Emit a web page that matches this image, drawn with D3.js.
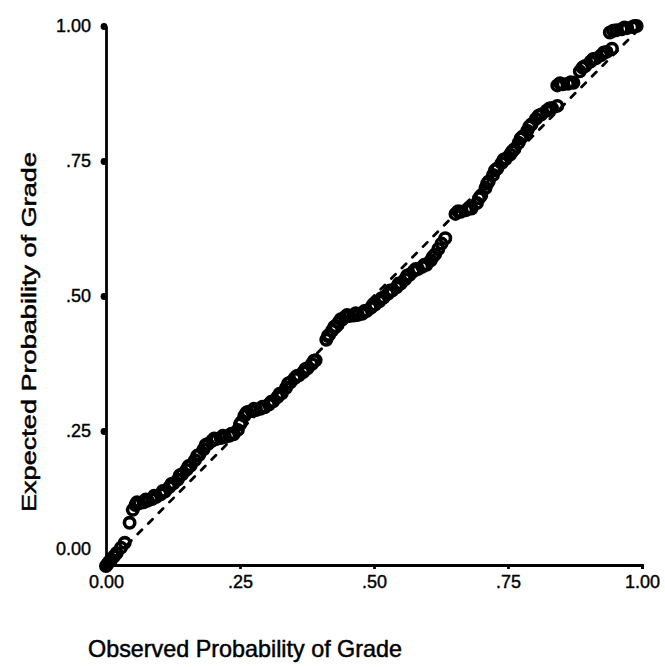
<!DOCTYPE html>
<html>
<head>
<meta charset="utf-8">
<script src="https://cdn.jsdelivr.net/npm/d3@7"></script>
<style>
  html, body { margin: 0; padding: 0; background: #fff; }
  svg { display: block; }
  text { font-family: Arial, "Liberation Sans", Helvetica, sans-serif; fill: #000; }
</style>
</head>
<body>
<svg id="chart" width="665" height="667"></svg>
<script>
// P-P plot: observed vs expected cumulative probability of grade
const observedProb = [
  0.000,0.003,0.006,0.010,0.015,0.020,0.028,0.035,0.044,0.050,0.055,
  0.062,0.070,0.078,0.086,0.094,0.102,0.110,0.118,0.126,0.134,0.142,0.150,0.158,0.166,0.174,0.182,0.190,
  0.198,0.206,0.214,0.222,0.230,0.238,0.246,0.252,0.258,0.264,
  0.272,0.280,0.288,0.296,0.304,0.312,0.320,0.328,0.336,0.344,0.352,0.360,0.368,0.376,0.384,0.391,
  0.411,0.416,0.422,0.428,0.434,0.440,0.446,0.454,0.462,0.470,0.478,0.486,0.494,0.502,0.510,0.518,
  0.526,0.534,0.542,0.550,0.558,0.566,0.574,0.582,0.590,0.598,0.606,0.614,0.620,0.633,
  0.652,0.662,0.672,0.682,0.692,0.700,0.708,0.714,0.722,0.730,0.738,0.746,0.754,0.762,0.770,0.778,
  0.786,0.794,0.802,0.812,0.822,0.832,0.842,
  0.842,0.852,0.862,0.872,
  0.884,0.894,0.904,0.914,0.924,0.934,0.944,
  0.940,0.952,0.962,0.972,0.982,0.990,
  0.058,0.074,0.090,0.106,0.122,0.138,0.154,0.170,0.186,
  0.202,0.218,0.234,0.250,0.262,
  0.276,0.292,0.308,0.324,0.340,0.356,0.372,0.388,
  0.414,0.426,0.438,0.450,0.466,0.482,0.498,0.514,0.530,0.546,0.562,0.578,0.594,0.610,0.626,
  0.657,0.677,0.696,0.711,0.726,0.742,0.758,0.774,0.790,0.807,0.827,
  0.847,0.867,0.889,0.909,0.929,0.946,0.967,0.986
];
const expectedProb = [
  0.000,0.004,0.008,0.012,0.018,0.024,0.034,0.043,0.080,0.104,0.113,
  0.116,0.118,0.121,0.124,0.128,0.133,0.138,0.146,0.153,0.160,0.170,0.178,0.186,0.196,0.206,0.216,0.226,
  0.232,0.235,0.237,0.239,0.241,0.244,0.252,0.266,0.278,0.285,
  0.287,0.289,0.291,0.294,0.299,0.305,0.313,0.320,0.330,0.340,0.348,0.353,0.359,0.366,0.374,0.381,
  0.419,0.428,0.436,0.444,0.451,0.456,0.461,0.463,0.464,0.465,0.467,0.472,0.478,0.484,0.490,0.497,
  0.504,0.510,0.516,0.523,0.531,0.539,0.546,0.550,0.554,0.558,0.566,0.577,0.587,0.607,
  0.652,0.656,0.659,0.662,0.672,0.686,0.700,0.712,0.724,0.736,0.746,0.754,0.762,0.772,0.784,0.796,
  0.806,0.818,0.828,0.836,0.843,0.848,0.852,
  0.890,0.892,0.893,0.895,
  0.916,0.926,0.934,0.940,0.946,0.952,0.958,
  0.988,0.992,0.994,0.996,0.998,1.000,
  0.118,0.123,0.130,0.139,0.152,0.168,0.185,0.204,0.224,
  0.236,0.241,0.245,0.262,0.284,
  0.291,0.295,0.304,0.319,0.338,0.352,0.365,0.380,
  0.426,0.443,0.457,0.465,0.468,0.472,0.484,0.496,0.510,0.523,0.538,0.550,0.558,0.573,0.597,
  0.657,0.663,0.681,0.708,0.733,0.753,0.768,0.792,0.814,0.834,0.847,
  0.894,0.896,0.923,0.939,0.951,0.991,0.997,1.000
];
const tickValues = [0, 0.25, 0.5, 0.75, 1];
const tickLabels = ["0.00", ".25", ".50", ".75", "1.00"];
const xTitle = "Observed Probability of Grade";
const yTitle = "Expected Probability of Grade";

const svg = d3.select("#chart");
const x = d3.scaleLinear().domain([0, 1]).range([106, 642]);
const y = d3.scaleLinear().domain([0, 1]).range([566, 26]);
const fmt = d => tickLabels[tickValues.indexOf(d)];

// diagonal reference (dashed)
svg.append("line")
  .attr("x1", x(0)).attr("y1", y(0)).attr("x2", x(1)).attr("y2", y(1))
  .attr("stroke", "#000").attr("stroke-width", 2.8)
  .attr("stroke-dasharray", "6,9").attr("stroke-linecap", "round");

// y axis
const yAxis = svg.append("g").attr("transform", `translate(${x(0)},0)`)
  .call(d3.axisLeft(y).tickValues(tickValues).tickFormat(fmt).tickSize(0).tickPadding(15));
yAxis.select(".domain").attr("stroke", "#000").attr("stroke-width", 2.8);
yAxis.selectAll(".tick text").attr("font-size", 18)
  .attr("stroke", "#000").attr("stroke-width", 0.4)
  .attr("dy", d => d === 0 ? "-0.65em" : "0.3em");
yAxis.selectAll(".tick").append("circle")
  .attr("cx", -2).attr("cy", 0).attr("r", 3.4).attr("fill", "#000");

// x axis
const xAxis = svg.append("g").attr("transform", `translate(0,${y(0) - 1})`)
  .call(d3.axisBottom(x).tickValues(tickValues).tickFormat(fmt).tickSize(4).tickPadding(6));
xAxis.select(".domain").attr("stroke", "#000").attr("stroke-width", 2.8);
xAxis.selectAll(".tick line").attr("stroke", "#000").attr("stroke-width", 2.8);
xAxis.selectAll(".tick text").attr("font-size", 18)
  .attr("stroke", "#000").attr("stroke-width", 0.4);

// data points: open circles
svg.append("g").selectAll("circle")
  .data(d3.range(observedProb.length))
  .join("circle")
  .attr("cx", i => x(observedProb[i]))
  .attr("cy", i => y(expectedProb[i]))
  .attr("r", 5.2)
  .attr("fill", "none")
  .attr("stroke", "#000")
  .attr("stroke-width", 3.6);

// axis titles
svg.append("text")
  .attr("x", 245).attr("y", 657)
  .attr("text-anchor", "middle")
  .attr("font-size", 24)
  .attr("stroke", "#000").attr("stroke-width", 0.5)
  .attr("textLength", 314).attr("lengthAdjust", "spacingAndGlyphs")
  .text(xTitle);

svg.append("text")
  .attr("transform", "translate(36,332) rotate(-90)")
  .attr("text-anchor", "middle")
  .attr("font-size", 21)
  .attr("stroke", "#000").attr("stroke-width", 0.5)
  .attr("textLength", 360).attr("lengthAdjust", "spacingAndGlyphs")
  .text(yTitle);
</script>
</body>
</html>
